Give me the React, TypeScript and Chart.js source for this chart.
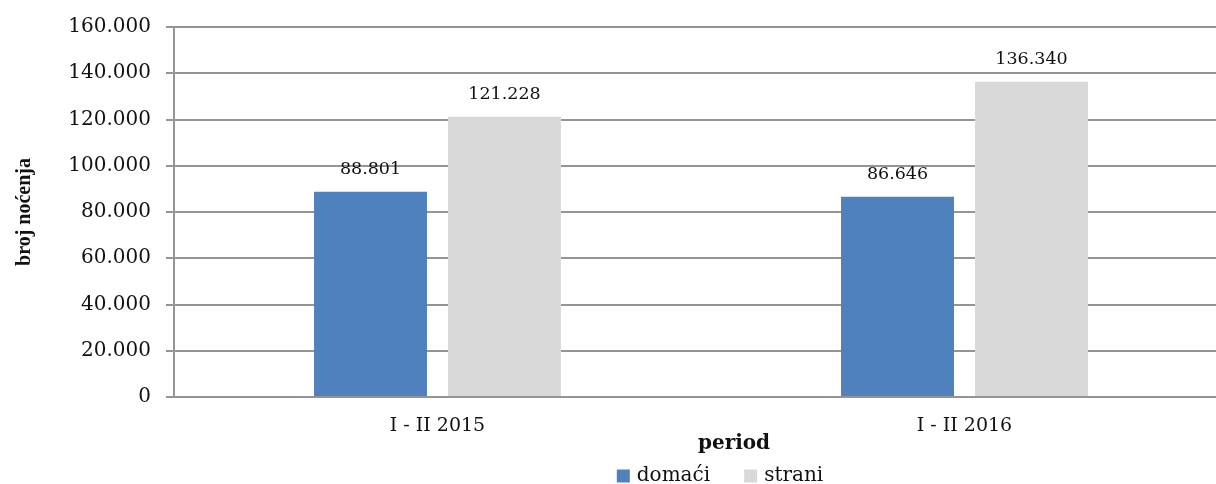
import React, { useEffect, useRef } from "react";
import { Chart, registerables } from "chart.js";

Chart.register(...registerables);

const categories = ["I - II 2015", "I - II 2016"];
const seriesNames = ["domaći", "strani"];
const domaci = [88801, 86646];
const strani = [121228, 136340];
const yTicks = [0, 20000, 40000, 60000, 80000, 100000, 120000, 140000, 160000];
const xTitle = "period";
const yTitle = "broj noćenja";

const COLORS = ["#4F81BD", "#D9D9D9"];
const GRID = "#959595";
const TEXT = "#111111";
const SERIF = '"DejaVu Serif", serif';

const fmt = (v: number) => String(v).replace(/\B(?=(\d{3})+(?!\d))/g, ".");

const overlayPlugin = {
  id: "overlay",
  afterDatasetsDraw(chart: any) {
    const ctx = chart.ctx;
    ctx.save();
    ctx.font = `normal 17.5px ${SERIF}`;
    ctx.fillStyle = TEXT;
    ctx.textAlign = "center";
    ctx.textBaseline = "alphabetic";
    chart.data.datasets.forEach((ds: any, i: number) => {
      const meta = chart.getDatasetMeta(i);
      meta.data.forEach((bar: any, j: number) => {
        ctx.fillText(fmt(ds.data[j]), bar.x, bar.y - 18);
      });
    });
    ctx.restore();
  },
  afterDraw(chart: any) {
    const ctx = chart.ctx;
    const area = chart.chartArea;
    const mid = (area.left + area.right) / 2;
    ctx.save();
    // x axis title
    ctx.font = `bold 20px ${SERIF}`;
    ctx.fillStyle = TEXT;
    ctx.textAlign = "center";
    ctx.textBaseline = "middle";
    ctx.fillText(xTitle, mid + 33, 444);
    // legend
    const legendFont = `normal 20px ${SERIF}`;
    ctx.font = legendFont;
    const box = 13;
    const gapBoxText = 7;
    const gapItems = 34;
    const items = chart.data.datasets.map((ds: any) => ({
      label: ds.label,
      color: ds.backgroundColor,
      w: ctx.measureText(ds.label).width,
    }));
    let total = 0;
    items.forEach((it: any, i: number) => {
      total += box + gapBoxText + it.w + (i < items.length - 1 ? gapItems : 0);
    });
    let x = mid + 19 - total / 2;
    const cy = 476;
    items.forEach((it: any) => {
      ctx.fillStyle = it.color;
      ctx.fillRect(x, cy - box / 2, box, box);
      x += box + gapBoxText;
      ctx.font = legendFont;
      ctx.textAlign = "left";
      ctx.textBaseline = "middle";
      ctx.fillStyle = TEXT;
      ctx.fillText(it.label, x, cy);
      x += it.w + gapItems;
    });
    ctx.restore();
  },
};

export default function App() {
  const ref = useRef<HTMLCanvasElement | null>(null);

  useEffect(() => {
    if (!ref.current) return;
    const chart = new Chart(ref.current, {
      type: "bar",
      data: {
        labels: categories,
        datasets: [
          {
            label: seriesNames[0],
            data: domaci,
            backgroundColor: COLORS[0],
            categoryPercentage: 0.5085,
            barPercentage: 0.843,
          },
          {
            label: seriesNames[1],
            data: strani,
            backgroundColor: COLORS[1],
            categoryPercentage: 0.5085,
            barPercentage: 0.843,
          },
        ],
      },
      options: {
        animation: false,
        responsive: false,
        layout: { padding: { top: 23.5, right: 12, left: 0, bottom: 0 } },
        plugins: {
          legend: { display: false },
          tooltip: { enabled: false },
        },
        scales: {
          x: {
            grid: { display: false, drawTicks: false },
            border: { display: true, color: GRID, width: 2 },
            ticks: {
              color: TEXT,
              font: { family: SERIF, size: 19 },
              padding: 18,
            },
            afterFit: (s: any) => {
              s.height = 87;
            },
          },
          y: {
            min: 0,
            max: 160000,
            afterBuildTicks: (s: any) => {
              s.ticks = yTicks.map((v) => ({ value: v }));
            },
            grid: {
              color: GRID,
              lineWidth: 2,
              tickLength: 8,
              tickColor: GRID,
            },
            border: { display: true, color: GRID, width: 2 },
            ticks: {
              color: TEXT,
              font: { family: SERIF, size: 20 },
              padding: 15,
              callback: (v: any) => fmt(Number(v)),
            },
            title: {
              display: true,
              text: yTitle,
              color: TEXT,
              font: { family: '"Liberation Serif", serif', size: 20, weight: "bold" },
              padding: { top: 13, bottom: 0 },
            },
            afterFit: (s: any) => {
              s.width = 174;
            },
          },
        },
      },
      plugins: [overlayPlugin],
    });
    return () => chart.destroy();
  }, []);

  return (
    <div
      style={{
        position: "fixed",
        left: 0,
        top: 0,
        width: 1216,
        height: 484,
        overflow: "hidden",
        background: "#ffffff",
      }}
    >
      <canvas ref={ref} width={1240} height={484} style={{ display: "block" }} />
    </div>
  );
}
